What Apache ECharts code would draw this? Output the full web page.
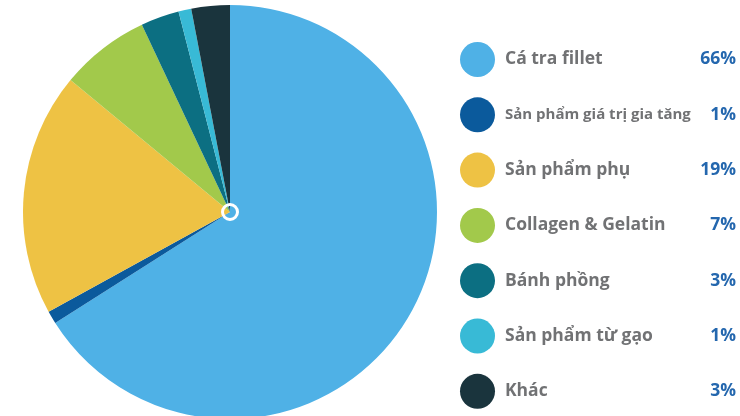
<!DOCTYPE html>
<html>
<head>
<meta charset="utf-8">
<script src="https://cdn.jsdelivr.net/npm/echarts@6/dist/echarts.min.js"></script>
<style>html,body{margin:0;padding:0;background:#fff;}#c{width:740px;height:416px;}</style>
</head>
<body>
<div id="c"></div>
<script>
const categories = ['Cá tra fillet', 'Sản phẩm giá trị gia tăng', 'Sản phẩm phụ', 'Collagen & Gelatin', 'Bánh phồng', 'Sản phẩm từ gạo', 'Khác'];
const values = [66, 1, 19, 7, 3, 1, 3];
const colors = ['#4FB1E6', '#0B5A9C', '#EEC244', '#A2C94B', '#0C6F82', '#38BAD6', '#1A343D'];

const chart = echarts.init(document.getElementById('c'), null, {renderer: 'canvas'});
const data = categories.map((n, i) => ({name: n, value: values[i], itemStyle: {color: colors[i]}}));
chart.setOption({
  animation: false,
  legend: {
    orient: 'vertical',
    left: 455,
    top: 37,
    itemWidth: 35,
    itemHeight: 35,
    itemGap: 20.3,
    icon: 'circle',
    data: categories,
    formatter: function (name) {
      const i = categories.indexOf(name);
      const style = name.length > 20 ? 'm' : 'n';
      return '{' + style + '|' + name + '}{v|' + values[i] + '%}';
    },
    textStyle: {
      padding: [0, 0, 0, 5],
      rich: {
        n: {width: 193, fontFamily: 'Open Sans', fontWeight: 'bold', fontSize: 17.5, color: '#717274'},
        m: {width: 193, fontFamily: 'Open Sans', fontWeight: 'bold', fontSize: 15, color: '#717274'},
        v: {width: 38, align: 'right', fontFamily: 'Open Sans', fontWeight: 'bold', fontSize: 17.5, color: '#2467AE'}
      }
    }
  },
  series: [
    {
      type: 'pie',
      center: [230, 212],
      radius: [0, 207],
      startAngle: 90,
      clockwise: true,
      label: {show: false},
      labelLine: {show: false},
      silent: true,
      itemStyle: {borderWidth: 0},
      data: data
    },
    {
      type: 'pie',
      center: [230, 212],
      radius: [6, 9],
      label: {show: false},
      silent: true,
      legendHoverLink: false,
      data: [{name: '_ring', value: 1, itemStyle: {color: '#ffffff'}}]
    }
  ]
});
</script>
</body>
</html>
